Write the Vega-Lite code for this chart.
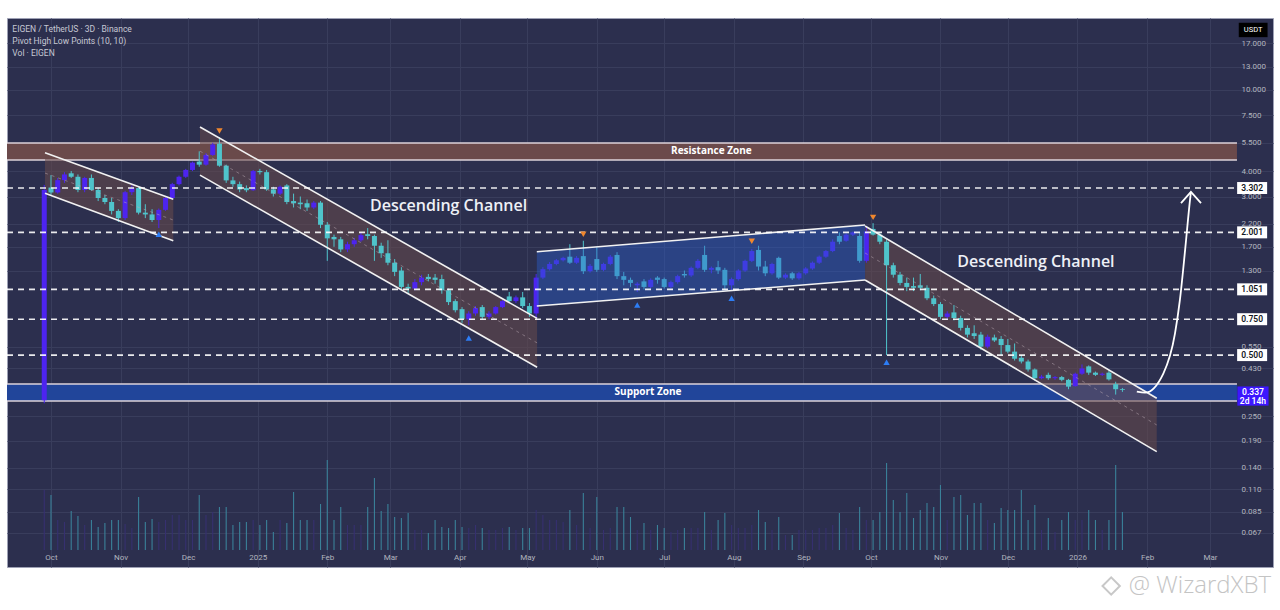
{
  "$schema": "https://vega.github.io/schema/vega-lite/v6.json",
  "width": 1266,
  "height": 549,
  "autosize": "none",
  "padding": {"left": 7, "top": 18, "right": 7, "bottom": 43},
  "background": "#ffffff",
  "config": {
    "font": "Roboto",
    "view": {"fill": "#2c2f4e", "stroke": "#9ea1b5", "strokeWidth": 1},
    "axis": {"titleOpacity": 0}
  },
  "datasets": {
    "candles": [
      {"d":"2024-09-28","o":0.30,"h":3.42,"l":0.29,"c":3.23,"v":60},
      {"d":"2024-10-01","o":3.32,"h":3.82,"l":3.05,"c":3.14,"v":55},
      {"d":"2024-10-04","o":3.14,"h":3.70,"l":3.10,"c":3.61,"v":30},
      {"d":"2024-10-07","o":3.61,"h":3.95,"l":3.50,"c":3.85,"v":28},
      {"d":"2024-10-10","o":3.90,"h":4.00,"l":3.70,"c":3.75,"v":39},
      {"d":"2024-10-13","o":3.75,"h":3.85,"l":3.15,"c":3.23,"v":34},
      {"d":"2024-10-16","o":3.23,"h":3.75,"l":3.15,"c":3.70,"v":25},
      {"d":"2024-10-19","o":3.70,"h":3.85,"l":3.20,"c":3.23,"v":30},
      {"d":"2024-10-22","o":3.23,"h":3.30,"l":2.85,"c":2.95,"v":23},
      {"d":"2024-10-25","o":2.95,"h":3.05,"l":2.75,"c":2.82,"v":27},
      {"d":"2024-10-28","o":2.82,"h":2.95,"l":2.45,"c":2.55,"v":30},
      {"d":"2024-10-31","o":2.55,"h":2.60,"l":2.25,"c":2.35,"v":30},
      {"d":"2024-11-03","o":2.35,"h":3.20,"l":2.30,"c":3.15,"v":26},
      {"d":"2024-11-06","o":3.15,"h":3.40,"l":3.05,"c":3.30,"v":22},
      {"d":"2024-11-09","o":3.30,"h":3.35,"l":2.45,"c":2.50,"v":53},
      {"d":"2024-11-12","o":2.50,"h":2.75,"l":2.35,"c":2.45,"v":28},
      {"d":"2024-11-15","o":2.45,"h":2.60,"l":2.25,"c":2.30,"v":31},
      {"d":"2024-11-18","o":2.30,"h":2.62,"l":2.10,"c":2.58,"v":28},
      {"d":"2024-11-21","o":2.58,"h":3.00,"l":2.55,"c":2.95,"v":30},
      {"d":"2024-11-24","o":2.95,"h":3.50,"l":2.90,"c":3.45,"v":35},
      {"d":"2024-11-27","o":3.45,"h":3.80,"l":3.40,"c":3.75,"v":35},
      {"d":"2024-11-30","o":3.75,"h":4.10,"l":3.70,"c":4.05,"v":30},
      {"d":"2024-12-03","o":4.05,"h":4.45,"l":4.00,"c":4.40,"v":30},
      {"d":"2024-12-06","o":4.45,"h":5.00,"l":4.20,"c":4.30,"v":55},
      {"d":"2024-12-09","o":4.30,"h":4.90,"l":4.25,"c":4.80,"v":35},
      {"d":"2024-12-12","o":4.80,"h":5.50,"l":4.75,"c":5.40,"v":38},
      {"d":"2024-12-15","o":5.45,"h":5.85,"l":4.20,"c":4.25,"v":43},
      {"d":"2024-12-18","o":4.25,"h":4.30,"l":3.50,"c":3.60,"v":43},
      {"d":"2024-12-21","o":3.60,"h":3.75,"l":3.35,"c":3.45,"v":25},
      {"d":"2024-12-24","o":3.45,"h":3.55,"l":3.15,"c":3.25,"v":28},
      {"d":"2024-12-27","o":3.30,"h":3.40,"l":3.15,"c":3.22,"v":28},
      {"d":"2024-12-30","o":3.22,"h":4.05,"l":3.20,"c":4.00,"v":30},
      {"d":"2025-01-02","o":4.00,"h":4.10,"l":3.85,"c":3.95,"v":25},
      {"d":"2025-01-05","o":3.95,"h":4.05,"l":3.20,"c":3.25,"v":30},
      {"d":"2025-01-08","o":3.25,"h":3.35,"l":3.00,"c":3.10,"v":18},
      {"d":"2025-01-11","o":3.10,"h":3.40,"l":3.05,"c":3.35,"v":30},
      {"d":"2025-01-14","o":3.40,"h":3.45,"l":2.75,"c":2.82,"v":27},
      {"d":"2025-01-17","o":2.85,"h":3.10,"l":2.65,"c":2.78,"v":58},
      {"d":"2025-01-20","o":2.80,"h":3.00,"l":2.60,"c":2.75,"v":30},
      {"d":"2025-01-23","o":2.78,"h":2.90,"l":2.55,"c":2.65,"v":30},
      {"d":"2025-01-26","o":2.65,"h":2.85,"l":2.60,"c":2.80,"v":30},
      {"d":"2025-01-29","o":2.80,"h":2.85,"l":2.10,"c":2.18,"v":46},
      {"d":"2025-02-01","o":2.18,"h":2.25,"l":1.45,"c":1.87,"v":90},
      {"d":"2025-02-04","o":1.90,"h":1.95,"l":1.70,"c":1.85,"v":30},
      {"d":"2025-02-07","o":1.85,"h":1.90,"l":1.60,"c":1.65,"v":43},
      {"d":"2025-02-10","o":1.65,"h":1.80,"l":1.60,"c":1.75,"v":25},
      {"d":"2025-02-13","o":1.75,"h":1.88,"l":1.70,"c":1.83,"v":25},
      {"d":"2025-02-16","o":1.83,"h":2.00,"l":1.80,"c":1.94,"v":25},
      {"d":"2025-02-19","o":1.96,"h":2.10,"l":1.85,"c":1.92,"v":43},
      {"d":"2025-02-22","o":1.92,"h":1.95,"l":1.45,"c":1.72,"v":72},
      {"d":"2025-02-25","o":1.72,"h":1.78,"l":1.50,"c":1.58,"v":39},
      {"d":"2025-02-28","o":1.58,"h":1.83,"l":1.38,"c":1.42,"v":46},
      {"d":"2025-03-03","o":1.42,"h":1.48,"l":1.22,"c":1.28,"v":33},
      {"d":"2025-03-06","o":1.30,"h":1.35,"l":1.05,"c":1.08,"v":32},
      {"d":"2025-03-09","o":1.08,"h":1.12,"l":1.00,"c":1.06,"v":37},
      {"d":"2025-03-12","o":1.06,"h":1.18,"l":1.04,"c":1.14,"v":20},
      {"d":"2025-03-15","o":1.14,"h":1.24,"l":1.10,"c":1.20,"v":20},
      {"d":"2025-03-18","o":1.21,"h":1.25,"l":1.15,"c":1.18,"v":17},
      {"d":"2025-03-21","o":1.20,"h":1.25,"l":1.12,"c":1.17,"v":30},
      {"d":"2025-03-24","o":1.18,"h":1.24,"l":1.00,"c":1.04,"v":23},
      {"d":"2025-03-27","o":1.04,"h":1.06,"l":0.88,"c":0.91,"v":22},
      {"d":"2025-03-30","o":0.92,"h":0.94,"l":0.81,"c":0.83,"v":30},
      {"d":"2025-04-02","o":0.84,"h":0.86,"l":0.72,"c":0.75,"v":23},
      {"d":"2025-04-05","o":0.75,"h":0.82,"l":0.70,"c":0.80,"v":22},
      {"d":"2025-04-08","o":0.80,"h":0.87,"l":0.78,"c":0.85,"v":25},
      {"d":"2025-04-11","o":0.86,"h":0.88,"l":0.75,"c":0.77,"v":22},
      {"d":"2025-04-14","o":0.77,"h":0.82,"l":0.75,"c":0.80,"v":20},
      {"d":"2025-04-17","o":0.80,"h":0.87,"l":0.79,"c":0.86,"v":20},
      {"d":"2025-04-20","o":0.86,"h":0.93,"l":0.85,"c":0.92,"v":22},
      {"d":"2025-04-23","o":0.97,"h":1.02,"l":0.90,"c":0.92,"v":23},
      {"d":"2025-04-26","o":0.92,"h":0.98,"l":0.90,"c":0.96,"v":20},
      {"d":"2025-04-29","o":0.96,"h":1.02,"l":0.85,"c":0.87,"v":22},
      {"d":"2025-05-02","o":0.87,"h":0.90,"l":0.77,"c":0.80,"v":22},
      {"d":"2025-05-05","o":0.80,"h":1.25,"l":0.76,"c":1.20,"v":40},
      {"d":"2025-05-08","o":1.20,"h":1.35,"l":1.18,"c":1.32,"v":35},
      {"d":"2025-05-11","o":1.32,"h":1.43,"l":1.30,"c":1.40,"v":30},
      {"d":"2025-05-14","o":1.40,"h":1.48,"l":1.38,"c":1.46,"v":30},
      {"d":"2025-05-17","o":1.46,"h":1.52,"l":1.44,"c":1.50,"v":28},
      {"d":"2025-05-20","o":1.52,"h":1.75,"l":1.40,"c":1.42,"v":40},
      {"d":"2025-05-23","o":1.42,"h":1.53,"l":1.40,"c":1.50,"v":25},
      {"d":"2025-05-26","o":1.53,"h":1.82,"l":1.25,"c":1.29,"v":57},
      {"d":"2025-05-29","o":1.29,"h":1.40,"l":1.27,"c":1.37,"v":22},
      {"d":"2025-06-01","o":1.48,"h":1.70,"l":1.28,"c":1.31,"v":53},
      {"d":"2025-06-04","o":1.31,"h":1.42,"l":1.29,"c":1.40,"v":20},
      {"d":"2025-06-07","o":1.40,"h":1.55,"l":1.38,"c":1.52,"v":22},
      {"d":"2025-06-10","o":1.55,"h":1.60,"l":1.18,"c":1.22,"v":43},
      {"d":"2025-06-13","o":1.22,"h":1.28,"l":1.10,"c":1.17,"v":43},
      {"d":"2025-06-16","o":1.17,"h":1.20,"l":1.08,"c":1.13,"v":33},
      {"d":"2025-06-19","o":1.10,"h":1.14,"l":1.02,"c":1.12,"v":20},
      {"d":"2025-06-22","o":1.15,"h":1.18,"l":1.05,"c":1.08,"v":27},
      {"d":"2025-06-25","o":1.08,"h":1.19,"l":1.06,"c":1.17,"v":20},
      {"d":"2025-06-28","o":1.20,"h":1.22,"l":1.12,"c":1.17,"v":25},
      {"d":"2025-07-01","o":1.18,"h":1.20,"l":1.06,"c":1.08,"v":22},
      {"d":"2025-07-04","o":1.08,"h":1.16,"l":1.06,"c":1.14,"v":18},
      {"d":"2025-07-07","o":1.14,"h":1.24,"l":1.12,"c":1.22,"v":20},
      {"d":"2025-07-10","o":1.25,"h":1.30,"l":1.20,"c":1.23,"v":22},
      {"d":"2025-07-13","o":1.23,"h":1.36,"l":1.21,"c":1.34,"v":22},
      {"d":"2025-07-16","o":1.34,"h":1.48,"l":1.32,"c":1.45,"v":22},
      {"d":"2025-07-19","o":1.55,"h":1.72,"l":1.28,"c":1.31,"v":38},
      {"d":"2025-07-22","o":1.31,"h":1.36,"l":1.26,"c":1.34,"v":20},
      {"d":"2025-07-25","o":1.35,"h":1.45,"l":1.25,"c":1.30,"v":30},
      {"d":"2025-07-28","o":1.31,"h":1.34,"l":1.05,"c":1.10,"v":37},
      {"d":"2025-07-31","o":1.10,"h":1.20,"l":1.04,"c":1.18,"v":25},
      {"d":"2025-08-03","o":1.18,"h":1.32,"l":1.16,"c":1.30,"v":22},
      {"d":"2025-08-06","o":1.30,"h":1.47,"l":1.28,"c":1.45,"v":22},
      {"d":"2025-08-09","o":1.45,"h":1.66,"l":1.43,"c":1.62,"v":25},
      {"d":"2025-08-12","o":1.64,"h":1.72,"l":1.30,"c":1.36,"v":40},
      {"d":"2025-08-15","o":1.36,"h":1.45,"l":1.22,"c":1.26,"v":28},
      {"d":"2025-08-18","o":1.26,"h":1.42,"l":1.24,"c":1.40,"v":20},
      {"d":"2025-08-21","o":1.50,"h":1.52,"l":1.18,"c":1.20,"v":33},
      {"d":"2025-08-24","o":1.20,"h":1.26,"l":1.18,"c":1.24,"v":15},
      {"d":"2025-08-27","o":1.26,"h":1.28,"l":1.17,"c":1.19,"v":15},
      {"d":"2025-08-30","o":1.19,"h":1.28,"l":1.17,"c":1.26,"v":20},
      {"d":"2025-09-02","o":1.26,"h":1.35,"l":1.24,"c":1.33,"v":20},
      {"d":"2025-09-05","o":1.33,"h":1.44,"l":1.31,"c":1.42,"v":20},
      {"d":"2025-09-08","o":1.42,"h":1.54,"l":1.40,"c":1.52,"v":22},
      {"d":"2025-09-11","o":1.52,"h":1.64,"l":1.50,"c":1.62,"v":22},
      {"d":"2025-09-14","o":1.62,"h":1.85,"l":1.60,"c":1.80,"v":25},
      {"d":"2025-09-17","o":1.92,"h":2.00,"l":1.75,"c":1.80,"v":37},
      {"d":"2025-09-20","o":1.82,"h":1.98,"l":1.80,"c":1.95,"v":22},
      {"d":"2025-09-23","o":1.95,"h":2.02,"l":1.92,"c":2.00,"v":20},
      {"d":"2025-09-26","o":1.92,"h":2.00,"l":1.42,"c":1.45,"v":43},
      {"d":"2025-09-29","o":1.45,"h":2.15,"l":1.42,"c":2.02,"v":30},
      {"d":"2025-10-02","o":2.08,"h":2.22,"l":1.93,"c":1.95,"v":30},
      {"d":"2025-10-05","o":1.95,"h":2.00,"l":1.75,"c":1.80,"v":38},
      {"d":"2025-10-08","o":1.80,"h":1.85,"l":0.50,"c":1.38,"v":87},
      {"d":"2025-10-11","o":1.38,"h":1.42,"l":1.20,"c":1.24,"v":50},
      {"d":"2025-10-14","o":1.24,"h":1.28,"l":1.10,"c":1.13,"v":38},
      {"d":"2025-10-17","o":1.13,"h":1.20,"l":1.03,"c":1.08,"v":57},
      {"d":"2025-10-20","o":1.09,"h":1.20,"l":1.03,"c":1.07,"v":32},
      {"d":"2025-10-23","o":1.10,"h":1.25,"l":1.04,"c":1.07,"v":40},
      {"d":"2025-10-26","o":1.07,"h":1.10,"l":0.93,"c":0.95,"v":47},
      {"d":"2025-10-29","o":0.95,"h":0.98,"l":0.87,"c":0.89,"v":43},
      {"d":"2025-11-01","o":0.89,"h":0.91,"l":0.75,"c":0.77,"v":65},
      {"d":"2025-11-04","o":0.77,"h":0.82,"l":0.75,"c":0.80,"v":30},
      {"d":"2025-11-07","o":0.81,"h":0.88,"l":0.74,"c":0.76,"v":53},
      {"d":"2025-11-10","o":0.76,"h":0.78,"l":0.66,"c":0.68,"v":55},
      {"d":"2025-11-13","o":0.68,"h":0.70,"l":0.61,"c":0.63,"v":35},
      {"d":"2025-11-16","o":0.64,"h":0.70,"l":0.60,"c":0.62,"v":47},
      {"d":"2025-11-19","o":0.63,"h":0.65,"l":0.53,"c":0.55,"v":47},
      {"d":"2025-11-22","o":0.55,"h":0.63,"l":0.54,"c":0.615,"v":30},
      {"d":"2025-11-25","o":0.61,"h":0.63,"l":0.58,"c":0.59,"v":27},
      {"d":"2025-11-28","o":0.60,"h":0.62,"l":0.50,"c":0.56,"v":42},
      {"d":"2025-12-01","o":0.56,"h":0.60,"l":0.51,"c":0.52,"v":40},
      {"d":"2025-12-04","o":0.52,"h":0.57,"l":0.47,"c":0.48,"v":40},
      {"d":"2025-12-07","o":0.485,"h":0.50,"l":0.455,"c":0.465,"v":60},
      {"d":"2025-12-10","o":0.465,"h":0.475,"l":0.415,"c":0.425,"v":30},
      {"d":"2025-12-13","o":0.425,"h":0.43,"l":0.375,"c":0.385,"v":45},
      {"d":"2025-12-16","o":0.385,"h":0.40,"l":0.38,"c":0.392,"v":20},
      {"d":"2025-12-19","o":0.40,"h":0.41,"l":0.378,"c":0.385,"v":32},
      {"d":"2025-12-22","o":0.385,"h":0.395,"l":0.378,"c":0.39,"v":18},
      {"d":"2025-12-25","o":0.39,"h":0.395,"l":0.372,"c":0.378,"v":30},
      {"d":"2025-12-28","o":0.378,"h":0.382,"l":0.34,"c":0.35,"v":38},
      {"d":"2025-12-31","o":0.352,"h":0.41,"l":0.35,"c":0.405,"v":30},
      {"d":"2026-01-03","o":0.405,"h":0.45,"l":0.40,"c":0.43,"v":30},
      {"d":"2026-01-06","o":0.44,"h":0.445,"l":0.40,"c":0.41,"v":40},
      {"d":"2026-01-09","o":0.41,"h":0.415,"l":0.395,"c":0.40,"v":30},
      {"d":"2026-01-12","o":0.40,"h":0.41,"l":0.395,"c":0.405,"v":20},
      {"d":"2026-01-15","o":0.41,"h":0.42,"l":0.375,"c":0.38,"v":30},
      {"d":"2026-01-18","o":0.36,"h":0.37,"l":0.32,"c":0.34,"v":85},
      {"d":"2026-01-21","o":0.34,"h":0.345,"l":0.33,"c":0.337,"v":38}
    ],
    "zones": [
      {"zone":"Resistance","d":"2024-09-11T10:00:00Z","d2":"2026-03-13T00:00:00Z","p1":4.53,"p2":5.49},
      {"zone":"Support","d":"2024-09-11T10:00:00Z","d2":"2026-03-13T00:00:00Z","p1":0.2977,"p2":0.3606}
    ],
    "channels": [
      {"ch":"c1","kind":"desc","d":"2024-09-28T08:00:00Z","top":4.92,"bot":3.11,"mid":3.91},
      {"ch":"c1","kind":"desc","d":"2024-11-24T11:00:00Z","top":2.91,"bot":1.82,"mid":2.30},
      {"ch":"c2","kind":"desc","d":"2024-12-06T08:00:00Z","top":6.58,"bot":3.82,"mid":5.01},
      {"ch":"c2","kind":"desc","d":"2025-05-05T10:00:00Z","top":0.757,"bot":0.436,"mid":0.574},
      {"ch":"c3","kind":"asc","d":"2025-05-05T07:00:00Z","top":1.608,"bot":0.87,"mid":1.183},
      {"ch":"c3","kind":"asc","d":"2025-09-28T10:00:00Z","top":2.175,"bot":1.168,"mid":1.594},
      {"ch":"c4","kind":"desc","d":"2025-09-28T10:00:00Z","top":2.15,"bot":1.168,"mid":1.585},
      {"ch":"c4","kind":"desc","d":"2026-02-05T07:00:00Z","top":0.307,"bot":0.168,"mid":0.227}
    ],
    "levels": [
      {"d":"2024-09-11T10:00:00Z","d2":"2026-03-13T00:00:00Z","p":3.302},
      {"d":"2024-09-11T10:00:00Z","d2":"2026-03-13T00:00:00Z","p":2.001},
      {"d":"2024-09-11T10:00:00Z","d2":"2026-03-13T00:00:00Z","p":1.051},
      {"d":"2024-09-11T10:00:00Z","d2":"2026-03-13T00:00:00Z","p":0.75},
      {"d":"2024-09-11T10:00:00Z","d2":"2026-03-13T00:00:00Z","p":0.5}
    ],
    "levelTags": [
      {"d":"2026-03-19T18:00:00Z","p":3.302,"t":"3.302"},
      {"d":"2026-03-19T18:00:00Z","p":2.001,"t":"2.001"},
      {"d":"2026-03-19T18:00:00Z","p":1.051,"t":"1.051"},
      {"d":"2026-03-19T18:00:00Z","p":0.75,"t":"0.750"},
      {"d":"2026-03-19T18:00:00Z","p":0.5,"t":"0.500"}
    ],
    "pivotHighs": [
      {"d":"2024-12-15","p":6.29},
      {"d":"2025-05-26","p":1.96},
      {"d":"2025-08-09","p":1.81},
      {"d":"2025-10-02","p":2.37}
    ],
    "pivotLows": [
      {"d":"2024-11-18","p":1.96},
      {"d":"2025-04-05","p":0.606},
      {"d":"2025-06-19","p":0.88},
      {"d":"2025-07-31","p":0.95},
      {"d":"2025-10-08","p":0.461}
    ],
    "legendText": [
      {"d":"2024-09-13T19:00:00Z","p":19.9,"t":"EIGEN / TetherUS · 3D · Binance"},
      {"d":"2024-09-13T19:00:00Z","p":17.39,"t":"Pivot High Low Points (10, 10)"},
      {"d":"2024-09-13T19:00:00Z","p":15.23,"t":"Vol · EIGEN"}
    ],
    "channelText": [
      {"d":"2025-03-27T00:00:00Z","p":2.70,"t":"Descending Channel"},
      {"d":"2025-12-13T12:00:00Z","p":1.43,"t":"Descending Channel"}
    ],
    "zoneText": [
      {"d":"2025-07-22T00:00:00Z","p":4.99,"t":"Resistance Zone"},
      {"d":"2025-06-23T19:00:00Z","p":0.3277,"t":"Support Zone"}
    ],
    "arrowCurve": [
      {"d":"2026-01-27T10:00:00Z","p":0.3305},
      {"d":"2026-01-31T02:00:00Z","p":0.327},
      {"d":"2026-02-08T05:00:00Z","p":0.406},
      {"d":"2026-02-13T10:00:00Z","p":0.639},
      {"d":"2026-02-15T14:00:00Z","p":0.93},
      {"d":"2026-02-17T22:00:00Z","p":1.64},
      {"d":"2026-02-20T02:00:00Z","p":2.88},
      {"d":"2026-02-20T12:00:00Z","p":3.16}
    ],
    "arrowHead": [
      {"d":"2026-02-16T02:00:00Z","p":2.787},
      {"d":"2026-02-20T12:00:00Z","p":3.16},
      {"d":"2026-02-25T00:00:00Z","p":2.787}
    ],
    "currentTag": [{"d":"2026-03-20T03:00:00Z","p":0.3148}],
    "currentText": [
      {"d":"2026-03-20T03:00:00Z","p":0.3313,"t":"0.337"},
      {"d":"2026-03-20T03:00:00Z","p":0.2976,"t":"2d 14h"}
    ],
    "usdt": [{"d":"2026-03-20T05:00:00Z","p":19.7,"t":"USDT"}],
    "watermark": [{"d":"2026-03-28T05:00:00Z","p":0.0368,"t":"@ WizardXBT"}],
    "logo": [{"d":"2026-01-16T00:00:00Z","p":0.0368}]
  },
  "encoding": {
    "x": {
      "field": "d", "type": "temporal", "title": null,
      "scale": {"type": "utc", "nice": false, "padding": 0, "domain": [
        {"year": 2024, "month": 9, "date": 11, "hours": 10, "utc": true},
        {"year": 2026, "month": 3, "date": 29, "hours": 1, "utc": true}
      ]},
      "axis": {
        "orient": "bottom", "offset": -19,
        "tickCount": {"interval": "month", "step": 1},
        "labelExpr": "utcFormat(datum.value, '%m') == '01' ? utcFormat(datum.value, '%Y') : utcFormat(datum.value, '%b')",
        "labelColor": "#b2b5be", "labelFontSize": 8, "labelPadding": 5,
        "labelFlush": false, "labelOverlap": false,
        "domain": false, "ticks": false,
        "grid": true, "gridColor": "#393d5c", "title": null
      }
    }
  },
  "layer": [
    {
      "data": {"name": "candles"},
      "mark": {"type": "rule", "strokeWidth": 1.1},
      "encoding": {
        "y": {"field": "v", "type": "quantitative", "title": null, "scale": {"domain": [-17, 532], "nice": false, "zero": false}, "axis": null},
        "y2": {"datum": 0},
        "color": {"condition": {"test": "datum.c >= datum.o", "value": "#363070"}, "value": "#3a8199"}
      }
    },
    {
      "layer": [
        {
          "data": {"name": "zones"},
          "mark": {"type": "rect"},
          "encoding": {
            "x2": {"field": "d2"},
            "y": {
              "field": "p1", "type": "quantitative", "title": null,
              "scale": {"type": "log", "domain": [0.04561, 22.55], "nice": false},
              "axis": {
                "orient": "right", "offset": -36, "zindex": 0,
                "values": [17, 13, 10, 7.5, 5.5, 4, 3, 2.2, 1.7, 1.3, 0.55, 0.43, 0.25, 0.19, 0.14, 0.11, 0.085, 0.067],
                "format": ".3f", "labelColor": "#b2b5be", "labelFontSize": 8, "labelPadding": 4,
                "labelOverlap": false, "labelBaseline": "middle",
                "domain": false, "ticks": false, "grid": true, "gridColor": "#393d5c", "title": null
              }
            },
            "y2": {"field": "p2"},
            "color": {"field": "zone", "type": "nominal", "scale": {"domain": ["Resistance", "Support"], "range": ["#6b4a4b", "#21459a"]}, "legend": null}
          }
        },
        {
          "data": {"name": "zones"},
          "mark": {"type": "rule", "color": "#ddd3da", "strokeWidth": 1.5},
          "encoding": {"x2": {"field": "d2"}, "y": {"field": "p1", "type": "quantitative", "title": null}}
        },
        {
          "data": {"name": "zones"},
          "mark": {"type": "rule", "color": "#ddd3da", "strokeWidth": 1.5},
          "encoding": {"x2": {"field": "d2"}, "y": {"field": "p2", "type": "quantitative", "title": null}}
        },
        {
          "data": {"name": "channels"},
          "transform": [{"filter": "datum.kind == 'desc'"}],
          "mark": {"type": "area", "color": "#6a4a4a", "opacity": 0.55},
          "encoding": {
            "y": {"field": "top", "type": "quantitative", "title": null},
            "y2": {"field": "bot"},
            "detail": {"field": "ch"}
          }
        },
        {
          "data": {"name": "candles"},
          "mark": {"type": "rule", "strokeWidth": 1},
          "encoding": {
            "y": {"field": "l", "type": "quantitative", "title": null},
            "y2": {"field": "h"},
            "color": {"condition": {"test": "datum.c >= datum.o", "value": "#4d24f0"}, "value": "#4fc4cb"}
          }
        },
        {
          "data": {"name": "candles"},
          "mark": {"type": "bar", "width": 5},
          "encoding": {
            "y": {"field": "o", "type": "quantitative", "title": null},
            "y2": {"field": "c"},
            "color": {"condition": {"test": "datum.c >= datum.o", "value": "#4d24f0"}, "value": "#4fc4cb"}
          }
        },
        {
          "data": {"name": "channels"},
          "transform": [{"filter": "datum.kind == 'asc'"}],
          "mark": {"type": "area", "color": "#2a5fd0", "opacity": 0.42},
          "encoding": {
            "y": {"field": "top", "type": "quantitative", "title": null},
            "y2": {"field": "bot"},
            "detail": {"field": "ch"}
          }
        },
        {
          "data": {"name": "channels"},
          "mark": {"type": "line", "color": "#f2f2f2", "strokeWidth": 1.6},
          "encoding": {"y": {"field": "top", "type": "quantitative", "title": null}, "detail": {"field": "ch"}}
        },
        {
          "data": {"name": "channels"},
          "mark": {"type": "line", "color": "#f2f2f2", "strokeWidth": 1.6},
          "encoding": {"y": {"field": "bot", "type": "quantitative", "title": null}, "detail": {"field": "ch"}}
        },
        {
          "data": {"name": "channels"},
          "transform": [{"filter": "datum.kind == 'desc'"}],
          "mark": {"type": "line", "color": "#b9a9b4", "opacity": 0.5, "strokeWidth": 1, "strokeDash": [3, 4]},
          "encoding": {"y": {"field": "mid", "type": "quantitative", "title": null}, "detail": {"field": "ch"}}
        },
        {
          "data": {"name": "levels"},
          "mark": {"type": "rule", "color": "#ffffff", "opacity": 0.9, "strokeWidth": 1.6, "strokeDash": [6, 5]},
          "encoding": {"x2": {"field": "d2"}, "y": {"field": "p", "type": "quantitative", "title": null}}
        },
        {
          "data": {"name": "pivotHighs"},
          "mark": {"type": "point", "shape": "triangle-down", "filled": true, "size": 40, "color": "#f0872d", "opacity": 1},
          "encoding": {"y": {"field": "p", "type": "quantitative", "title": null}}
        },
        {
          "data": {"name": "pivotLows"},
          "mark": {"type": "point", "shape": "triangle-up", "filled": true, "size": 40, "color": "#2d7df5", "opacity": 1},
          "encoding": {"y": {"field": "p", "type": "quantitative", "title": null}}
        },
        {
          "data": {"name": "legendText"},
          "mark": {"type": "text", "align": "left", "baseline": "middle", "fontSize": 8.5, "color": "#c6c8d4"},
          "encoding": {"y": {"field": "p", "type": "quantitative", "title": null}, "text": {"field": "t"}}
        },
        {
          "data": {"name": "channelText"},
          "mark": {"type": "text", "align": "center", "baseline": "middle", "font": "Open Sans", "fontSize": 16, "fontWeight": 600, "color": "#eef0f6"},
          "encoding": {"y": {"field": "p", "type": "quantitative", "title": null}, "text": {"field": "t"}}
        },
        {
          "data": {"name": "zoneText"},
          "mark": {"type": "text", "align": "center", "baseline": "middle", "font": "Open Sans", "fontSize": 10, "fontWeight": "bold", "color": "#ffffff"},
          "encoding": {"y": {"field": "p", "type": "quantitative", "title": null}, "text": {"field": "t"}}
        },
        {
          "data": {"name": "arrowCurve"},
          "mark": {"type": "line", "color": "#ffffff", "strokeWidth": 1.8, "interpolate": "monotone"},
          "encoding": {"y": {"field": "p", "type": "quantitative", "title": null}}
        },
        {
          "data": {"name": "arrowHead"},
          "mark": {"type": "line", "color": "#ffffff", "strokeWidth": 1.8},
          "encoding": {"y": {"field": "p", "type": "quantitative", "title": null}}
        },
        {
          "data": {"name": "levelTags"},
          "mark": {"type": "point", "shape": "M-1.25,-0.5H1.25V0.5H-1.25Z", "filled": true, "size": 576, "color": "#ffffff", "opacity": 1},
          "encoding": {"y": {"field": "p", "type": "quantitative", "title": null}}
        },
        {
          "data": {"name": "levelTags"},
          "mark": {"type": "text", "align": "center", "baseline": "middle", "fontSize": 8.5, "fontWeight": 600, "color": "#131722"},
          "encoding": {"y": {"field": "p", "type": "quantitative", "title": null}, "text": {"field": "t"}}
        },
        {
          "data": {"name": "currentTag"},
          "mark": {"type": "point", "shape": "M-1.3,-0.8H1.3V0.8H-1.3Z", "filled": true, "size": 576, "color": "#3c16ff", "opacity": 1},
          "encoding": {"y": {"field": "p", "type": "quantitative", "title": null}}
        },
        {
          "data": {"name": "currentText"},
          "mark": {"type": "text", "align": "center", "baseline": "middle", "fontSize": 8.5, "fontWeight": 600, "color": "#ffffff"},
          "encoding": {"y": {"field": "p", "type": "quantitative", "title": null}, "text": {"field": "t"}}
        },
        {
          "data": {"name": "usdt"},
          "mark": {"type": "point", "shape": "M-1.2,-0.6H1.2V0.6H-1.2Z", "filled": true, "size": 576, "color": "#000000", "opacity": 1},
          "encoding": {"y": {"field": "p", "type": "quantitative", "title": null}}
        },
        {
          "data": {"name": "usdt"},
          "mark": {"type": "text", "align": "center", "baseline": "middle", "fontSize": 7.5, "color": "#ffffff"},
          "encoding": {"y": {"field": "p", "type": "quantitative", "title": null}, "text": {"field": "t"}}
        },
        {
          "data": {"name": "logo"},
          "mark": {"type": "point", "shape": "diamond", "filled": false, "size": 300, "color": "#c8c8c8", "strokeWidth": 2, "opacity": 1},
          "encoding": {"y": {"field": "p", "type": "quantitative", "title": null}}
        },
        {
          "data": {"name": "watermark"},
          "mark": {"type": "text", "align": "right", "baseline": "middle", "font": "Open Sans", "fontSize": 24, "fontWeight": 300, "color": "#c4c4c4"},
          "encoding": {"y": {"field": "p", "type": "quantitative", "title": null}, "text": {"field": "t"}}
        }
      ]
    }
  ],
  "resolve": {"scale": {"y": "independent"}}
}
